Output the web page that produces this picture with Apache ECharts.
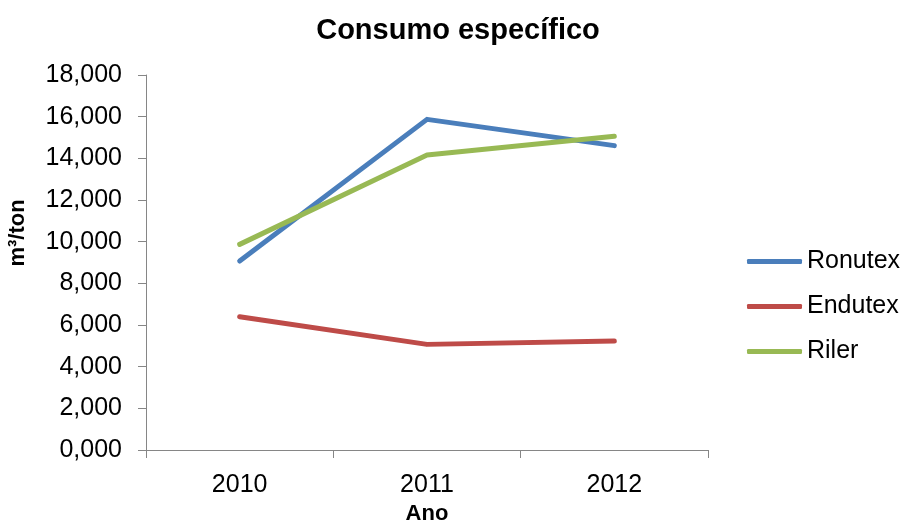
<!DOCTYPE html>
<html>
<head>
<meta charset="utf-8">
<script src="https://cdn.jsdelivr.net/npm/echarts@6/dist/echarts.min.js"></script>
<style>html,body{margin:0;padding:0;background:#fff}#c{width:908px;height:520px}</style>
</head>
<body>
<div id="c"></div>
<script>
const categories = ['2010', '2011', '2012'];
const ronutex = [9.07, 15.87, 14.61];
const endutex = [6.40, 5.07, 5.23];
const riler = [9.87, 14.16, 15.06];
const seriesNames = ['Ronutex', 'Endutex', 'Riler'];
const colors = ['#4A7EBB', '#BE4B48', '#98B954'];

const chart = echarts.init(document.getElementById('c'));
const font = 'Liberation Sans, Arial, sans-serif';
function mk(name, data, color) {
  return {
    name: name, type: 'line', data: data, symbol: 'none', showSymbol: false,
    lineStyle: { width: 5, color: color, cap: 'round', join: 'round' },
    itemStyle: { color: color },
    emphasis: { disabled: true }
  };
}
chart.setOption({
  animation: false,
  title: {
    text: 'Consumo específico', left: 453, top: 11, textAlign: 'center',
    textStyle: { fontFamily: font, fontSize: 29, fontWeight: 'bold', color: '#000' }
  },
  grid: { left: 146, right: 200, top: 75, bottom: 70, outerBoundsMode: 'none' },
  legend: {
    orient: 'vertical', left: 747, top: 249, padding: 0, itemGap: 20, itemWidth: 55, itemHeight: 5,
    icon: 'roundRect',
    data: seriesNames,
    textStyle: { fontFamily: font, fontSize: 25, color: '#000' }
  },
  xAxis: {
    type: 'category', data: categories, boundaryGap: true,
    name: 'Ano', nameLocation: 'middle', nameGap: 53,
    nameTextStyle: { fontFamily: font, fontSize: 22, fontWeight: 'bold', color: '#000' },
    axisLine: { lineStyle: { color: '#868686', width: 1 } },
    axisTick: { show: true, length: 8, alignWithLabel: false, lineStyle: { color: '#868686' } },
    axisLabel: { fontFamily: font, fontSize: 25, color: '#000', margin: 23 },
    splitLine: { show: false }
  },
  yAxis: {
    type: 'value', min: 0, max: 18, interval: 2,
    axisLine: { show: true, lineStyle: { color: '#868686', width: 1 } },
    axisTick: { show: true, length: 8, lineStyle: { color: '#868686' } },
    axisLabel: {
      fontFamily: font, fontSize: 25, color: '#000', margin: 24,
      formatter: v => v.toFixed(3).replace('.', ',')
    },
    splitLine: { show: false }
  },
  graphic: [{
    type: 'text', x: 18, y: 233, rotation: Math.PI / 2,
    style: { text: 'm³/ton', font: 'bold 22px ' + font, fill: '#000', textAlign: 'center', textVerticalAlign: 'middle' }
  }],
  series: [mk(seriesNames[0], ronutex, colors[0]), mk(seriesNames[1], endutex, colors[1]), mk(seriesNames[2], riler, colors[2])]
});
</script>
</body>
</html>
